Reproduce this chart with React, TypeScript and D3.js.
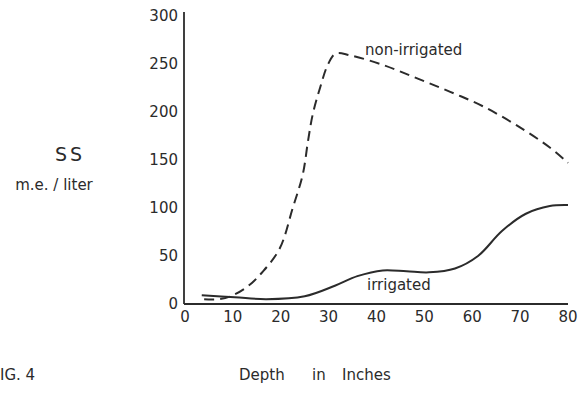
import React from 'react';
import * as d3 from 'd3';

// depth (inches) vs SS (m.e./liter)
const nonIrrigatedDepth = [4, 7, 9.5, 13, 16.3, 19.8, 22.5, 24.6, 25.7, 26.7, 28.2, 29.9, 31.5, 34.5, 41.4, 48.5, 55.4, 62.2, 69.3, 76.2, 80];
const nonIrrigatedSS = [5, 5, 8, 18, 34, 58, 100, 135, 170, 198, 225, 250, 261, 259, 249, 235, 221, 206, 186, 163, 147];

const irrigatedDepth = [3.5, 10.4, 17, 25, 31.3, 36, 41.3, 46.3, 51, 56.4, 61.2, 66.2, 71.2, 76.2, 80];
const irrigatedSS = [9, 7, 5, 8, 19, 29, 35, 34, 33, 37, 50, 76, 94, 102, 103];

const xTicks = [0, 10, 20, 30, 40, 50, 60, 70, 80];
const yTicks = [0, 50, 100, 150, 200, 250, 300];

const W = 580;
const H = 393;
const FONT = '"DejaVu Sans", sans-serif';

const App: React.FC = () => {
    const x = d3.scaleLinear().domain([0, 80]).range([185, 568]);
    const y = d3.scaleLinear().domain([0, 300]).range([304, 16]);

    const line = d3.line<[number, number]>()
        .x(d => x(d[0]))
        .y(d => y(d[1]))
        .curve(d3.curveCatmullRom.alpha(0.5));

    const nonIrr = line(nonIrrigatedDepth.map((d, i) => [d, nonIrrigatedSS[i]] as [number, number])) || '';
    const irr = line(irrigatedDepth.map((d, i) => [d, irrigatedSS[i]] as [number, number])) || '';

    const ink = '#2b2b2b';

    return (
        <svg width={W} height={H} style={{ position: 'absolute', left: 0, top: 0, background: '#fff' }}>
            {/* axes */}
            <line x1={x(0) - 1} x2={x(0) - 1} y1={y(300) - 4} y2={y(0)} stroke={ink} strokeWidth={1.8} />
            <line x1={x(0) - 1} x2={x(80)} y1={y(0)} y2={y(0)} stroke={ink} strokeWidth={1.8} />

            {yTicks.map(t => (
                <text key={t} x={178} y={y(t) + 5} textAnchor="end" fontFamily={FONT} fontSize={15} fill={ink}>{t}</text>
            ))}
            {xTicks.map(t => (
                <text key={t} x={x(t)} y={322} textAnchor="middle" fontFamily={FONT} fontSize={15} fill={ink}>{t}</text>
            ))}

            {/* curves */}
            <path d={nonIrr} fill="none" stroke={ink} strokeWidth={2} strokeDasharray="10,6" />
            <path d={irr} fill="none" stroke={ink} strokeWidth={2} />

            <text x={365} y={55} fontFamily={FONT} fontSize={15} fill={ink}>non-irrigated</text>
            <text x={367} y={290} fontFamily={FONT} fontSize={15} fill={ink}>irrigated</text>

            {/* axis titles */}
            <text x={70} y={161} textAnchor="middle" fontFamily={FONT} fontSize={19} letterSpacing={3} fill={ink}>SS</text>
            <text x={54} y={190} textAnchor="middle" fontFamily={FONT} fontSize={15} fill={ink}>m.e. / liter</text>
            <text x={239} y={380} fontFamily={FONT} fontSize={15} fill={ink}>Depth</text>
            <text x={312} y={380} fontFamily={FONT} fontSize={15} fill={ink}>in</text>
            <text x={342} y={380} fontFamily={FONT} fontSize={15} fill={ink}>Inches</text>
            <text x={0} y={380} fontFamily={FONT} fontSize={15} fill={ink}>IG. 4</text>
        </svg>
    );
};

export default App;
